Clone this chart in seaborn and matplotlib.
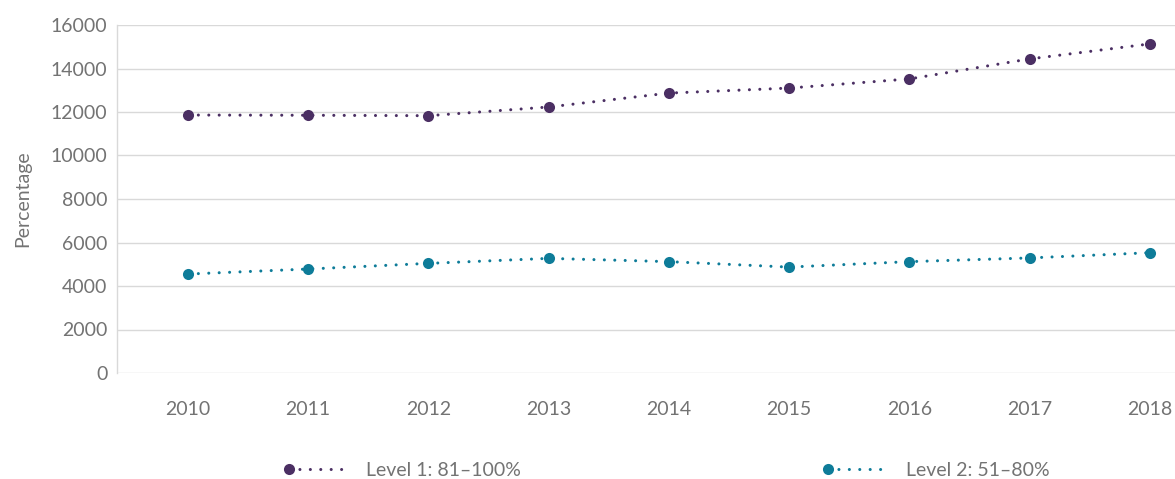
import numpy as np
import pandas as pd
import matplotlib
matplotlib.use("Agg")
import matplotlib.pyplot as plt
from matplotlib.legend_handler import HandlerLine2D
import seaborn as sns

years = ["2010", "2011", "2012", "2013", "2014", "2015", "2016", "2017", "2018"]
level1 = [11860, 11850, 11830, 12230, 12870, 13100, 13520, 14440, 15130]
level2 = [4550, 4780, 5040, 5270, 5120, 4870, 5120, 5290, 5530]
series_names = ["Level 1: 81\u2013100%", "Level 2: 51\u201380%"]
colors = ["#4b2f63", "#0e7c99"]

df = pd.DataFrame({
    "year": years * 2,
    "value": level1 + level2,
    "series": [series_names[0]] * len(years) + [series_names[1]] * len(years),
})
df["x"] = df["year"].map({y: i for i, y in enumerate(years)})

dotted = (0, (0.01, 3.4))


class MarkerFirst(HandlerLine2D):
    # legend handle: dot on the left, dotted line trailing to the right
    def create_artists(self, *args, **kwargs):
        arts = super().create_artists(*args, **kwargs)
        for a in arts:
            a.set_markevery([0])
        return arts


sns.set_style("white")
plt.rcParams["font.family"] = ["Lato", "DejaVu Sans"]
text_grey = "#737373"
fs = 14

fig = plt.figure(figsize=(11.75, 4.79), dpi=100)
ax = fig.add_axes([117 / 1175, 1 - 373 / 479, 1058 / 1175, 348 / 479])

sns.lineplot(data=df, x="x", y="value", hue="series", palette=colors,
             marker="o", markersize=8, markeredgewidth=0, linestyle=dotted,
             linewidth=2.2, dash_capstyle="round", ax=ax, legend=False, zorder=3)

ax.set_xlim(-0.59, 8.21)
ax.set_ylim(0, 16000)
ax.set_yticks(np.arange(0, 16001, 2000))
ax.set_xticks(range(len(years)))
ax.set_xticklabels(years)
ax.yaxis.grid(True, color="#d9d9d9", linewidth=1)
ax.set_axisbelow(True)
for s in ["top", "right", "bottom"]:
    ax.spines[s].set_visible(False)
ax.spines["left"].set_color("#d9d9d9")
ax.spines["left"].set_linewidth(1)
ax.tick_params(axis="both", length=0, labelsize=fs, colors=text_grey)
ax.tick_params(axis="x", pad=20)
ax.tick_params(axis="y", pad=7)
ax.set_xlabel("")
ax.set_ylabel("Percentage", fontsize=fs, color=text_grey, labelpad=14)

handles = [plt.Line2D([0, 1], [0, 0], color=c, marker="o", markersize=8, markeredgewidth=0,
                      linestyle=dotted, linewidth=2.2, dash_capstyle="round") for c in colors]
fig.legend(handles, series_names, loc="center", bbox_to_anchor=(0.567, 1 - 470 / 479),
           ncol=2, frameon=False, fontsize=fs, labelcolor=text_grey, numpoints=2,
           handlelength=3.6, columnspacing=15.5, handletextpad=0.7,
           handler_map={plt.Line2D: MarkerFirst()})

fig.savefig("out.png", dpi=100)
